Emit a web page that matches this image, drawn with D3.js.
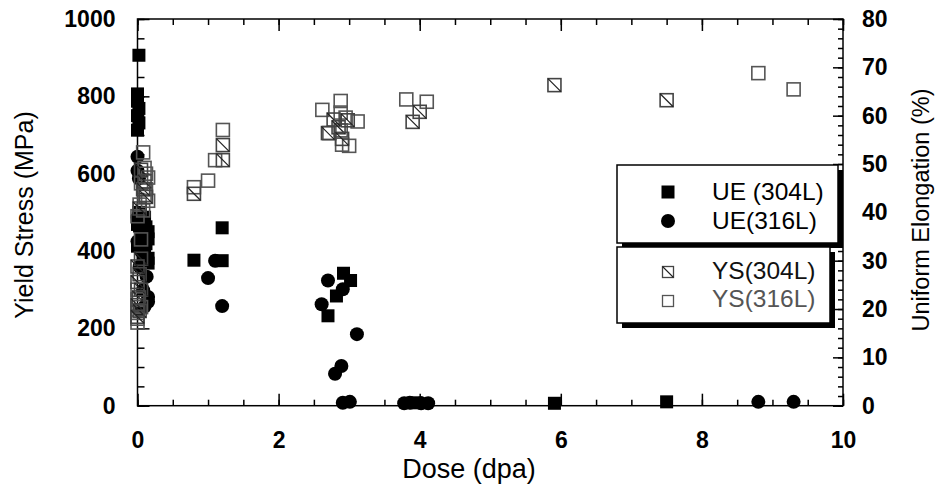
<!DOCTYPE html>
<html>
<head>
<meta charset="utf-8">
<script src="https://cdn.jsdelivr.net/npm/d3@7"></script>
<style>
  html, body { margin: 0; padding: 0; background: #fff; }
  svg { display: block; }
  text { font-family: "Liberation Sans", Arial, Helvetica, sans-serif; }
</style>
</head>
<body>
<svg id="chart" width="943" height="486"></svg>
<script>
// Uniform elongation (%) vs dose (dpa) — right axis
const ue304 = [
  [0.02, 72.5], [0.0, 64.5], [0.0, 63.0], [0.02, 61.5], [0.0, 60.0], [0.02, 58.5], [0.0, 57.0],
  [0.02, 40.0], [0.1, 39.0], [0.08, 38.5], [0.0, 37.5], [0.12, 37.0], [0.15, 36.0], [0.05, 35.0],
  [0.15, 34.5], [0.12, 33.5], [0.0, 33.0], [0.1, 32.5], [0.08, 31.5], [0.15, 30.5], [0.15, 29.5],
  [0.8, 30.1], [1.2, 36.8], [1.2, 30.0],
  [2.92, 27.4], [3.02, 25.9], [2.82, 22.7], [2.70, 18.6],
  [3.95, 0.6], [5.91, 0.5], [7.5, 0.8]
];
const ue316 = [
  [0.0, 51.5], [0.0, 48.6], [0.02, 47.0],
  [0.0, 39.0], [0.03, 36.5], [0.0, 34.0], [0.05, 32.0],
  [0.03, 28.8], [0.13, 26.7], [0.08, 23.9], [0.15, 22.5], [0.15, 21.5], [0.03, 19.8], [0.1, 20.5],
  [1.1, 30.0], [1.0, 26.4], [1.2, 20.6],
  [2.70, 25.9], [2.91, 24.1], [2.61, 21.0], [3.11, 14.8], [2.89, 8.2], [2.80, 6.6],
  [2.91, 0.6], [3.01, 0.8],
  [3.78, 0.5], [3.86, 0.6], [4.02, 0.5], [4.12, 0.5],
  [8.8, 0.8], [9.3, 0.8]
];
// Yield stress (MPa) vs dose (dpa) — left axis
const ys304 = [
  [0.05, 610], [0.1, 580], [0.08, 560], [0.12, 540], [0.03, 510],
  [0.05, 380], [0.0, 360], [0.03, 340], [0.0, 320], [0.05, 300], [0.02, 280], [0.0, 260], [0.03, 245], [0.0, 230],
  [0.8, 548], [1.21, 674], [1.21, 635],
  [2.78, 740], [2.98, 738], [2.70, 705], [2.85, 720], [2.9, 690],
  [4.0, 760], [3.9, 734],
  [5.91, 829], [7.5, 790]
];
const ys316 = [
  [0.08, 655], [0.1, 615], [0.12, 600], [0.15, 590], [0.05, 575], [0.12, 560], [0.1, 545],
  [0.15, 530], [0.03, 520], [0.08, 505], [0.0, 490], [0.05, 430],
  [0.0, 300], [0.0, 275], [0.05, 255], [0.0, 240], [0.0, 225], [0.0, 215],
  [0.8, 565], [1.0, 582], [1.1, 635], [1.21, 713],
  [2.62, 765], [2.88, 788], [2.88, 758], [3.12, 735], [2.95, 745], [2.72, 705], [2.88, 712],
  [2.9, 675], [3.0, 672],
  [3.81, 792], [4.10, 786],
  [8.8, 860], [9.3, 818]
];

const xTicks = [0, 2, 4, 6, 8, 10];
const yLeftTicks = [0, 200, 400, 600, 800, 1000];
const yRightTicks = [0, 10, 20, 30, 40, 50, 60, 70, 80];
const legendItems = ["UE (304L)", "UE(316L)", "YS(304L)", "YS(316L)"];

const svg = d3.select("#chart");
const L = 137.5, R = 843, T = 19, B = 405.7;

const x = d3.scaleLinear().domain([0, 10]).range([L, R]);
const yL = d3.scaleLinear().domain([0, 1000]).range([B, T]);
const yR = d3.scaleLinear().domain([0, 80]).range([B, T]);

const grey = "#555";
const tickFont = "bold 23px 'Liberation Sans', Arial, sans-serif";

function styleAxis(g) {
  g.select(".domain").remove();
  g.selectAll("line").attr("stroke", "#000").attr("stroke-width", 1.5);
  g.selectAll("text").style("font", tickFont).attr("fill", "#000");
}

// minor ticks
svg.append("g").attr("transform", `translate(0,${B})`)
  .call(d3.axisBottom(x).tickValues(d3.range(0, 10.01, 0.5)).tickSize(-6).tickFormat(""))
  .call(styleAxis);
svg.append("g").attr("transform", `translate(0,${T})`)
  .call(d3.axisTop(x).tickValues(d3.range(0, 10.01, 0.5)).tickSize(-6).tickFormat(""))
  .call(styleAxis);
svg.append("g").attr("transform", `translate(${L},0)`)
  .call(d3.axisLeft(yL).tickValues(d3.range(0, 1001, 50)).tickSize(-7).tickFormat(""))
  .call(styleAxis);
svg.append("g").attr("transform", `translate(${R},0)`)
  .call(d3.axisRight(yR).tickValues(d3.range(0, 81, 2)).tickSize(-5).tickFormat(""))
  .call(styleAxis);

// major ticks with labels
svg.append("g").attr("transform", `translate(0,${B})`)
  .call(d3.axisBottom(x).tickValues(xTicks).tickSize(-12).tickPadding(25.5).tickFormat(d3.format("d")))
  .call(styleAxis);
svg.append("g").attr("transform", `translate(0,${T})`)
  .call(d3.axisTop(x).tickValues(xTicks).tickSize(-12).tickFormat(""))
  .call(styleAxis);
svg.append("g").attr("transform", `translate(${L},0)`)
  .call(d3.axisLeft(yL).tickValues(yLeftTicks).tickSize(-12).tickPadding(22).tickFormat(d3.format("d")))
  .call(styleAxis);
svg.append("g").attr("transform", `translate(${R},0)`)
  .call(d3.axisRight(yR).tickValues(yRightTicks).tickSize(-10).tickPadding(19).tickFormat(d3.format("d")))
  .call(styleAxis);

// frame
svg.append("rect").attr("x", L).attr("y", T).attr("width", R - L).attr("height", B - T)
  .attr("fill", "none").attr("stroke", "#000").attr("stroke-width", 1.5);

// axis titles
svg.append("text").attr("x", 469).attr("y", 478).attr("text-anchor", "middle")
  .style("font-size", "27px").text("Dose (dpa)");
svg.append("text").attr("transform", `translate(33,215) rotate(-90)`)
  .attr("text-anchor", "middle").style("font-size", "25px").text("Yield Stress (MPa)");
svg.append("text").attr("transform", `translate(929,210) rotate(-90)`)
  .attr("text-anchor", "middle").style("font-size", "23.5px").text("Uniform Elongation (%)");

// marker helpers
function filledSquares(data, s) {
  svg.append("g").selectAll("rect").data(data).join("rect")
    .attr("x", d => x(d[0]) - s / 2).attr("y", d => yR(d[1]) - s / 2)
    .attr("width", s).attr("height", s).attr("fill", "#000");
}
function filledCircles(data, r) {
  svg.append("g").selectAll("circle").data(data).join("circle")
    .attr("cx", d => x(d[0])).attr("cy", d => yR(d[1])).attr("r", r).attr("fill", "#000");
}
function hollowSquares(data, s, color, hatched) {
  const g = svg.append("g").selectAll("g").data(data).join("g")
    .attr("transform", d => `translate(${x(d[0])},${yL(d[1])})`);
  g.append("rect").attr("x", -s / 2).attr("y", -s / 2).attr("width", s).attr("height", s)
    .attr("fill", "none").attr("stroke", color).attr("stroke-width", 1.6);
  if (hatched) {
    g.append("line").attr("x1", -s / 2).attr("y1", -s / 2).attr("x2", s / 2).attr("y2", s / 2)
      .attr("stroke", "#222").attr("stroke-width", 1.2);
  }
}

filledSquares(ue304, 13);
filledCircles(ue316, 7);
hollowSquares(ys316, 13, grey, false);
hollowSquares(ys304, 13, "#444", true);

// legend: two boxes with drop shadows
function shadowBox(bx, by, bw, bh) {
  svg.append("rect").attr("x", bx + 5).attr("y", by + 5).attr("width", bw).attr("height", bh).attr("fill", "#000");
  svg.append("rect").attr("x", bx).attr("y", by).attr("width", bw).attr("height", bh)
    .attr("fill", "#fff").attr("stroke", "#000").attr("stroke-width", 1.5);
}
shadowBox(617, 165, 221, 78);
shadowBox(617, 247, 213, 76);

const lx = 668, tx = 712;
svg.append("rect").attr("x", lx - 6.5).attr("y", 192 - 6.5).attr("width", 13).attr("height", 13).attr("fill", "#000");
svg.append("circle").attr("cx", lx).attr("cy", 221).attr("r", 7).attr("fill", "#000");
const lg3 = svg.append("g").attr("transform", `translate(${lx},272)`);
lg3.append("rect").attr("x", -5.5).attr("y", -5.5).attr("width", 11).attr("height", 11)
  .attr("fill", "none").attr("stroke", "#444").attr("stroke-width", 1.3);
lg3.append("line").attr("x1", -5.5).attr("y1", -5.5).attr("x2", 5.5).attr("y2", 5.5)
  .attr("stroke", "#222").attr("stroke-width", 1.1);
svg.append("rect").attr("x", lx - 5.5).attr("y", 301 - 5.5).attr("width", 11).attr("height", 11)
  .attr("fill", "none").attr("stroke", grey).attr("stroke-width", 1.3);

const textY = [200, 229, 279, 307];
const textColors = ["#000", "#000", "#111", grey];
legendItems.forEach((t, i) => {
  svg.append("text").attr("x", tx).attr("y", textY[i]).style("font-size", "24.5px")
    .attr("fill", textColors[i]).text(t);
});
</script>
</body>
</html>
